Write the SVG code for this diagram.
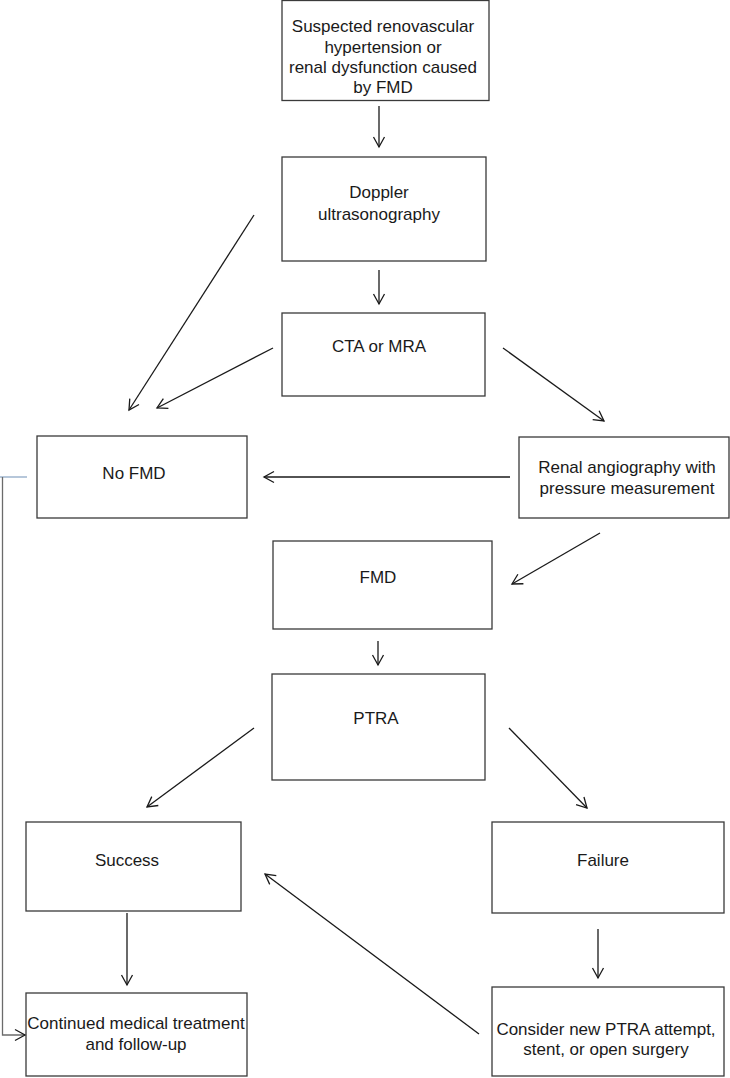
<svg xmlns="http://www.w3.org/2000/svg" width="730" height="1078" viewBox="0 0 730 1078">
<style>
.box{fill:#fff;stroke:#3a3a3a;stroke-width:1.3}
.t{font-family:"Liberation Sans",Arial,sans-serif;font-size:17px;fill:#1a1a1a;text-anchor:middle}
.c{fill:none;stroke:#1a1a1a;stroke-width:1.3}
</style>
<defs>
<marker id="ah" markerUnits="userSpaceOnUse" markerWidth="14" markerHeight="14" refX="11" refY="6" orient="auto" viewBox="0 0 14 12">
<path d="M1,0.5 L11,6 L1,11.5" fill="none" stroke="#1a1a1a" stroke-width="1.3"/>
</marker>
</defs>
<rect width="730" height="1078" fill="#fff"/>
<g id="n1"><rect class="box" x="282" y="0.5" width="207" height="100"/>
<text class="t" x="383" y="32">Suspected renovascular</text>
<text class="t" x="383" y="53">hypertension or</text>
<text class="t" x="383" y="73">renal dysfunction caused</text>
<text class="t" x="383" y="93">by FMD</text></g>
<g id="n2"><rect class="box" x="282" y="157" width="204" height="104"/>
<text class="t" x="379" y="198">Doppler</text>
<text class="t" x="379" y="220">ultrasonography</text></g>
<g id="n3"><rect class="box" x="282" y="313" width="203" height="83"/>
<text class="t" x="379" y="352">CTA or MRA</text></g>
<g id="n4"><rect class="box" x="37" y="436" width="210" height="82"/>
<text class="t" x="134" y="479">No FMD</text></g>
<g id="n5"><rect class="box" x="519" y="437" width="210" height="81"/>
<text class="t" x="627" y="473">Renal angiography with</text>
<text class="t" x="627" y="494">pressure measurement</text></g>
<g id="n6"><rect class="box" x="273" y="541" width="219" height="88"/>
<text class="t" x="378" y="583">FMD</text></g>
<g id="n7"><rect class="box" x="272" y="674" width="213" height="106"/>
<text class="t" x="376" y="724">PTRA</text></g>
<g id="n8"><rect class="box" x="26" y="822" width="215" height="89"/>
<text class="t" x="127" y="866">Success</text></g>
<g id="n9"><rect class="box" x="492" y="822" width="232" height="91"/>
<text class="t" x="603" y="866">Failure</text></g>
<g id="n10"><rect class="box" x="26" y="993" width="221" height="83"/>
<text class="t" x="136" y="1029">Continued medical treatment</text>
<text class="t" x="136" y="1050">and follow-up</text></g>
<g id="n11"><rect class="box" x="492" y="987" width="232" height="89"/>
<text class="t" x="606" y="1035">Consider new PTRA attempt,</text>
<text class="t" x="606" y="1055">stent, or open surgery</text></g>
<g id="connectors">
<line class="c" x1="379" y1="106" x2="379" y2="147" marker-end="url(#ah)"/>
<line class="c" x1="254" y1="215" x2="129" y2="410" marker-end="url(#ah)"/>
<line class="c" x1="379" y1="270" x2="379" y2="304" marker-end="url(#ah)"/>
<line class="c" x1="273" y1="348" x2="157" y2="408" marker-end="url(#ah)"/>
<line class="c" x1="503" y1="348" x2="604" y2="421" marker-end="url(#ah)"/>
<line class="c" x1="510" y1="477" x2="264" y2="477" marker-end="url(#ah)"/>
<line class="c" x1="600" y1="533" x2="512" y2="584" marker-end="url(#ah)"/>
<line class="c" x1="378" y1="641" x2="378" y2="665" marker-end="url(#ah)"/>
<line class="c" x1="254" y1="728" x2="147" y2="807" marker-end="url(#ah)"/>
<line class="c" x1="509" y1="728" x2="587" y2="808" marker-end="url(#ah)"/>
<line class="c" x1="127" y1="913" x2="127" y2="985" marker-end="url(#ah)"/>
<line class="c" x1="598" y1="929" x2="598" y2="978" marker-end="url(#ah)"/>
<line class="c" x1="479" y1="1034" x2="265" y2="874" marker-end="url(#ah)"/>
<line x1="0" y1="477" x2="27" y2="477" stroke="#8ea9c6" stroke-width="1.3"/>
<path d="M2.5,477 V1035 H25" fill="none" stroke="#6b6b6b" stroke-width="1.3" marker-end="url(#ah)"/>
</g>
</svg>
